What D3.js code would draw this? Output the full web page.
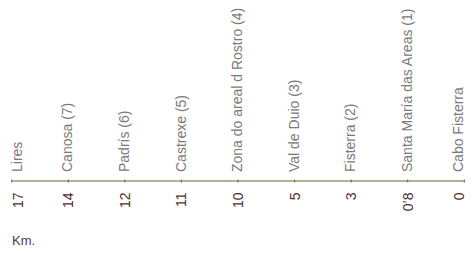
<!DOCTYPE html>
<html>
<head>
<meta charset="utf-8">
<script src="https://cdn.jsdelivr.net/npm/d3@7"></script>
<style>
  body { margin: 0; background: #fff; }
  text { font-family: "Liberation Sans Narrow", "Arial Narrow", "Liberation Sans", sans-serif; }
</style>
</head>
<body>
<div id="main"></div>
<script>
// stops along the route, from Lires to Cabo Fisterra
const places = ['Lires', 'Canosa (7)', 'Padrís (6)', 'Castrexe (5)', 'Zona do areal d Rostro (4)',
  'Val de Duio (3)', 'Fisterra (2)', 'Santa María das Areas (1)', 'Cabo Fisterra'];
const kms = ['17', '14', '12', '11', '10', '5', '3', '0\u20198', '0'];
const unitLabel = 'Km.';

const svgWidth = 475;
const svgHeight = 253;
const lineY = 181;
const labelSize = 14;
const kmSize = 14;

const svg = d3
  .select('#main')
  .append('svg')
  .attr('width', svgWidth)
  .attr('height', svgHeight);

// stops are evenly spaced, not by distance
const x = d3.scalePoint().domain(places).range([11.7, 464.3]);

// texts are centred on the tick but kept inside the line at both ends
const labelX = d => Math.max(18, Math.min(458.5, x(d)));

// base line
svg
  .append('line')
  .attr('x1', x.range()[0])
  .attr('x2', x.range()[1])
  .attr('y1', lineY)
  .attr('y2', lineY)
  .style('stroke', '#5e6b33')
  .style('stroke-width', 1.2);

// small ticks
svg
  .selectAll('.tick')
  .data(places)
  .enter()
  .append('line')
  .attr('class', 'tick')
  .attr('x1', d => x(d))
  .attr('x2', d => x(d))
  .attr('y1', lineY - 1.5)
  .attr('y2', lineY + 1.5)
  .style('stroke', '#5e6b33')
  .style('stroke-width', 1);

// place names, rotated
svg
  .selectAll('.place')
  .data(places)
  .enter()
  .append('text')
  .attr('class', 'place')
  .attr('transform', d => `translate(${labelX(d) + labelSize * 0.3},172) rotate(-90)`)
  .style('font-size', labelSize + 'px')
  .style('fill', '#7a7a7a')
  .text(d => d);

// distances
svg
  .selectAll('.km')
  .data(places)
  .enter()
  .append('text')
  .attr('class', 'km')
  .attr('transform', d => `translate(${labelX(d) + kmSize * 0.36},192.5) rotate(-90)`)
  .attr('text-anchor', 'end')
  .style('font-size', kmSize + 'px')
  .style('fill', '#4d2f2f')
  .text((d, i) => kms[i]);

svg
  .append('text')
  .attr('x', 12)
  .attr('y', 245)
  .style('font-size', '13px')
  .style('fill', '#4d3c3c')
  .text(unitLabel);
</script>
</body>
</html>
